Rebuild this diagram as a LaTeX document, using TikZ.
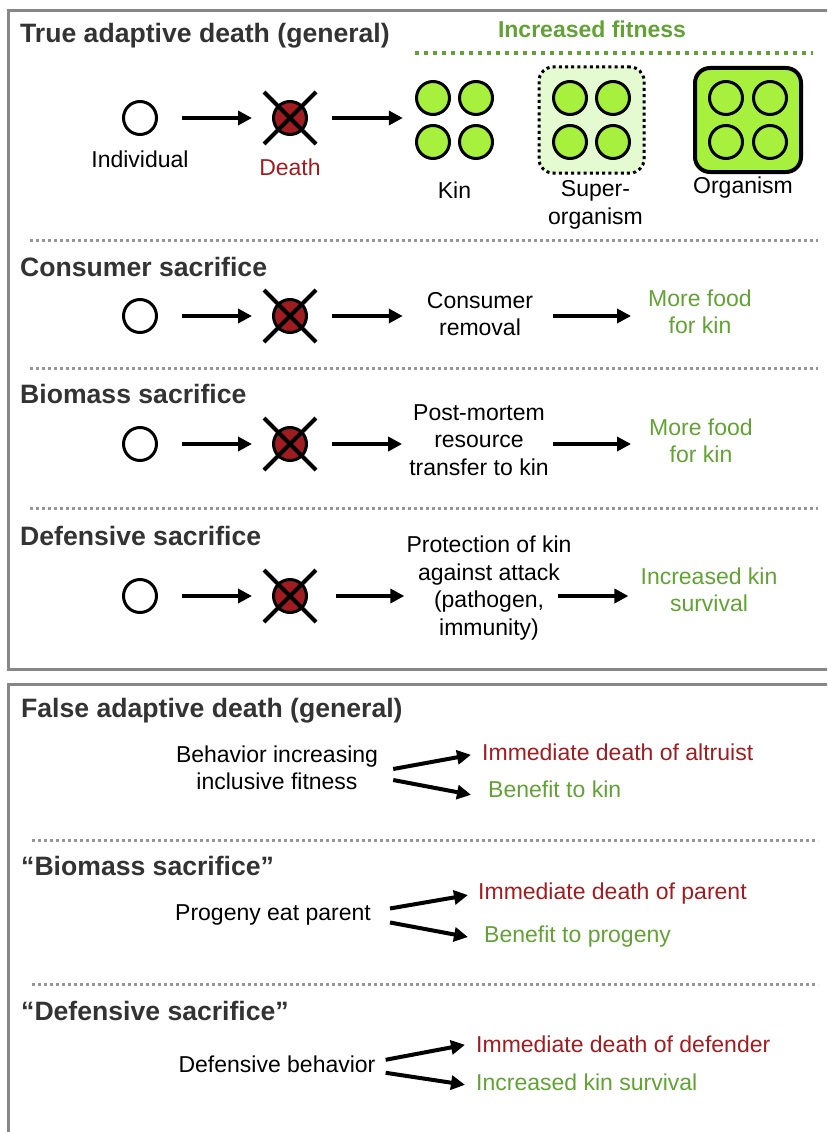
\documentclass[tikz,border=0pt]{standalone}
\usepackage{fontspec}
\setmainfont{Liberation Sans}
\usepackage{tikz}
\usetikzlibrary{arrows.meta, positioning, fit, backgrounds}

\definecolor{titlegray}{RGB}{51,51,51}
\definecolor{deathred}{RGB}{160,28,32}
\definecolor{fitgreen}{RGB}{98,162,52}
\definecolor{lime}{RGB}{168,240,62}
\definecolor{palelime}{RGB}{228,250,208}
\definecolor{framegray}{RGB}{135,135,135}
\definecolor{sepgray}{RGB}{150,150,150}

\newcommand{\txtsize}{\fontsize{23}{27.5}\selectfont}
\newcommand{\headsize}{\fontsize{26.6}{31}\selectfont}

\tikzstyle{arrow} = [line width=4pt, -{Triangle[length=14pt, width=14pt]}]
\tikzstyle{frame} = [draw=framegray, line width=3pt]

\begin{document}
\begin{tikzpicture}[x=1pt, y=-1pt,
        every node/.style={inner sep=0pt, font=\txtsize},
        indiv/.style={circle, draw, line width=3pt, minimum size=33pt},
        dead/.style={indiv, fill=deathred},
        cell/.style={indiv, fill=lime},
        xmark/.style={line width=4pt},
        head/.style={anchor=base west, font=\headsize\bfseries, text=titlegray},
        outcome/.style={text=fitgreen, align=center},
        loss/.style={anchor=base west, text=deathred},
        gain/.style={anchor=base west, text=fitgreen},
        sep/.style={draw=sepgray, line width=3pt, dash pattern=on 3pt off 3pt}
    ]
        \clip (0,0) rectangle (827,1132);

        % Two panels
        \draw[frame] (8,11) rectangle (850,669);
        \draw[frame] (8,684) rectangle (850,1150);

        % Section separators
        \draw[sep] (30,240) -- (818,240);
        \draw[sep] (30,368) -- (818,368);
        \draw[sep] (30,508) -- (818,508);
        \draw[sep] (32,840) -- (818,840);
        \draw[sep] (32,984) -- (818,984);

        % Titles
        \node[head] (ttrue) at (20,43) {True adaptive death (general)};
        \node[head] (tcons) at (20,276) {Consumer sacrifice};
        \node[head] (tbio) at (20,403) {Biomass sacrifice};
        \node[head] (tdef) at (20,545) {Defensive sacrifice};
        \node[head] (tfalse) at (21,717) {False adaptive death (general)};
        \node[head] (tfbio) at (21,875) {“Biomass sacrifice”};
        \node[head] (tfdef) at (21,1020) {“Defensive sacrifice”};

        % Increased fitness
        \node[anchor=base, font=\fontsize{23}{27}\selectfont\bfseries, text=fitgreen] (fitlab) at (592,38) {Increased fitness};
        \draw[fitgreen, line width=4pt, dash pattern=on 4pt off 5pt] (415,53) -- (813,53);

        % Row 1: general case
        \node[indiv] (ind1) at (140,118) {};
        \node[dead] (d1) at (290,118) {};
        \node[below=15pt of ind1] (indlab) {Individual};
        \node[below=23pt of d1, text=deathred] (deathlab) {Death};

        \node[cell] (k1) at (433,98) {};
        \node[cell] (k2) at (476,98) {};
        \node[cell] (k3) at (433,142) {};
        \node[cell] (k4) at (476,142) {};
        \node[fit=(k1)(k4)] (kin) {};
        \node[below=21pt of kin] (kinlab) {Kin};

        \node[cell] (s1) at (570,98) {};
        \node[cell] (s2) at (613,98) {};
        \node[cell] (s3) at (570,142) {};
        \node[cell] (s4) at (613,142) {};
        \begin{scope}[on background layer]
            \node[fit=(s1)(s4), inner sep=13pt, draw, fill=palelime, rounded corners=14pt,
                line width=3pt, dash pattern=on 3pt off 3.2pt] (super) {};
        \end{scope}
        \node[below=6pt of super, xshift=4pt, align=center] (superlab) {Super-\\organism};

        \node[cell] (o1) at (726,98) {};
        \node[cell] (o2) at (770,98) {};
        \node[cell] (o3) at (726,142) {};
        \node[cell] (o4) at (770,142) {};
        \begin{scope}[on background layer]
            \node[fit=(o1)(o4), inner xsep=13pt, inner ysep=12pt, draw, fill=lime,
                rounded corners=15pt, line width=4pt] (organism) {};
        \end{scope}
        \node[below=3pt of organism, xshift=-5pt] (orglab) {Organism};

        \draw[arrow, shorten <=24pt, shorten >=20pt] (ind1) -- (d1);
        \draw[arrow, shorten <=24pt, shorten >=12pt] (d1) -- (d1 -| kin.west);

        % Row 2: consumer sacrifice
        \node[indiv] (ind2) at (140,316) {};
        \node[dead] (d2) at (290,316) {};
        \node[align=center] (rem2) at (480,314) {Consumer\\removal};
        \node[outcome] (food2) at (700,312) {More food\\for kin};
        \draw[arrow, shorten <=24pt, shorten >=20pt] (ind2) -- (d2);
        \draw[arrow, shorten <=24pt, shorten >=24pt] (d2) -- (d2 -| rem2.west);
        \draw[arrow, shorten <=20pt, shorten >=17pt] (rem2.east |- d2) -- (d2 -| food2.west);

        % Row 3: biomass sacrifice
        \node[indiv] (ind3) at (140,444) {};
        \node[dead] (d3) at (290,444) {};
        \node[align=center] (post3) at (479,440) {Post-mortem\\resource\\transfer to kin};
        \node[outcome] (food3) at (701,441) {More food\\for kin};
        \draw[arrow, shorten <=24pt, shorten >=20pt] (ind3) -- (d3);
        \draw[arrow, shorten <=24pt, shorten >=7pt] (d3) -- (d3 -| post3.west);
        \draw[arrow, shorten <=4pt, shorten >=18pt] (post3.east |- d3) -- (d3 -| food3.west);

        % Row 4: defensive sacrifice
        \node[indiv] (ind4) at (140,596) {};
        \node[dead] (d4) at (290,596) {};
        \node[align=center] (prot4) at (489,588) {Protection of kin\\against attack\\(pathogen,\\immunity)};
        \node[outcome] (inc4) at (709,590) {Increased kin\\survival};
        \draw[arrow, shorten <=24pt, shorten >=20pt] (ind4) -- (d4);
        \draw[arrow, shorten <=28pt, shorten >=2pt] (d4) -- (d4 -| prot4.west);
        \draw[arrow, shorten >=12pt] ([xshift=-14pt]prot4.east |- d4) -- (d4 -| inc4.west);

        % Crosses over the dead individuals
        \foreach \d in {d1,d2,d3,d4}{
            \draw[xmark] ([shift={(-26,-26)}]\d.center) -- ([shift={(26,26)}]\d.center);
            \draw[xmark] ([shift={(-26,26)}]\d.center) -- ([shift={(26,-26)}]\d.center);
        }

        % False adaptive death (general)
        \node[align=center] (beh) at (277,768) {Behavior increasing\\inclusive fitness};
        \node[loss] (altr) at (482,760) {Immediate death of altruist};
        \node[gain] (bkin) at (488,797) {Benefit to kin};
        \draw[arrow] ([shift={(15,1)}]beh.east) -- ([shift={(-11,3)}]altr.west);
        \draw[arrow] ([shift={(15,12)}]beh.east) -- ([shift={(-17,6)}]bkin.west);

        % "Biomass sacrifice"
        \node[anchor=base] (prog) at (273,920) {Progeny eat parent};
        \node[loss] (dpar) at (478,899) {Immediate death of parent};
        \node[gain] (bprog) at (484,942) {Benefit to progeny};
        \draw[arrow] ([shift={(19,-6)}]prog.east) -- ([shift={(-10,2)}]dpar.west);
        \draw[arrow] ([shift={(19,8)}]prog.east) -- ([shift={(-16,1)}]bprog.west);

        % "Defensive sacrifice"
        \node[anchor=base] (defb) at (277,1072) {Defensive behavior};
        \node[loss] (ddef) at (476,1052) {Immediate death of defender};
        \node[gain] (ksurv) at (476,1090) {Increased kin survival};
        \draw[arrow] ([shift={(10,-4)}]defb.east) -- ([shift={(-11,1)}]ddef.west);
        \draw[arrow] ([shift={(10,9)}]defb.east) -- ([shift={(-11,3)}]ksurv.west);

    \end{tikzpicture}
\end{document}
